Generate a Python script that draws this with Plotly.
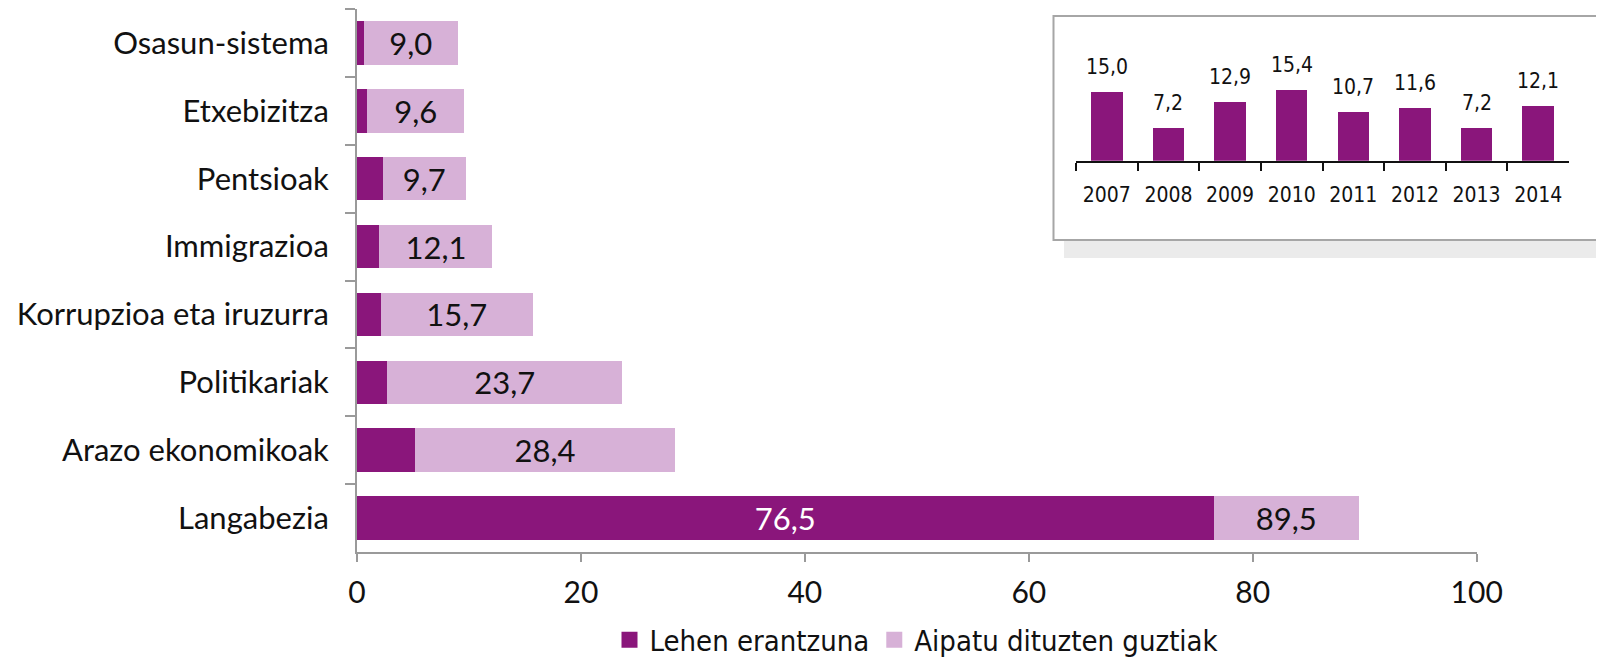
import plotly.graph_objects as go

categories = ["Osasun-sistema", "Etxebizitza", "Pentsioak", "Immigrazioa",
              "Korrupzioa eta iruzurra", "Politikariak", "Arazo ekonomikoak", "Langabezia"]
lehen = [0.6, 0.9, 2.3, 2.0, 2.1, 2.7, 5.2, 76.5]
guztiak = [9.0, 9.6, 9.7, 12.1, 15.7, 23.7, 28.4, 89.5]

years = ["2007", "2008", "2009", "2010", "2011", "2012", "2013", "2014"]
inset_values = [15.0, 7.2, 12.9, 15.4, 10.7, 11.6, 7.2, 12.1]

DARK = "#8a167b"
LIGHT = "#d7b1d7"
MAINFONT = "Lato, 'Noto Sans', sans-serif"
NARROW = ("'Liberation Sans Narrow', 'Arial Narrow', 'DejaVu Sans Condensed', "
          "'Noto Sans Condensed', 'Roboto Condensed', Roboto, sans-serif")

def fmt(v):
    return f"{v:.1f}".replace(".", ",")

fig = go.Figure()

# main chart: dark part + remaining light part (labelled with the total)
fig.add_trace(go.Bar(
    y=categories, x=lehen, orientation="h", marker=dict(color=DARK, line=dict(width=0)),
    text=[fmt(v) if v > 20 else "" for v in lehen], textposition="inside",
    insidetextanchor="middle", constraintext="none",
    textfont=dict(family=MAINFONT, size=31, color="white"),
    showlegend=False, hoverinfo="skip", name="Lehen erantzuna"))
fig.add_trace(go.Bar(
    y=categories, x=[g - l for g, l in zip(guztiak, lehen)], orientation="h",
    marker=dict(color=LIGHT, line=dict(width=0)),
    text=[fmt(v) for v in guztiak], textposition="inside",
    insidetextanchor="middle", constraintext="none",
    textfont=dict(family=MAINFONT, size=31, color="#111111"),
    showlegend=False, hoverinfo="skip", name="Aipatu dituzten guztiak"))

# legend entries
fig.add_trace(go.Scatter(x=[None], y=[None], mode="markers", name="Lehen erantzuna",
                         marker=dict(symbol="square", size=16, color=DARK)))
fig.add_trace(go.Scatter(x=[None], y=[None], mode="markers", name="Aipatu dituzten guztiak",
                         marker=dict(symbol="square", size=16, color=LIGHT)))

# inset
fig.add_trace(go.Bar(
    x=years, y=inset_values, xaxis="x2", yaxis="y2", width=0.51,
    marker=dict(color=DARK, line=dict(width=0)), showlegend=False, hoverinfo="skip"))

annotations = []
for i, v in enumerate(inset_values):
    annotations.append(dict(x=i, y=v, xref="x2", yref="y2", text=fmt(v), showarrow=False,
                            xanchor="center", yanchor="middle", yshift=25,
                            font=dict(family=NARROW, size=21, color="#111111")))

# the page body adds an 8px margin: work in screen pixels and compensate
OFF = 8
W, H = 1604 - OFF, 660 - OFF
L, R, T, B = 357 - OFF, 10, 9 - OFF, 108
pw, ph = W - L - R, H - T - B

def px2x(px):
    return (px - OFF - L) / pw

def px2y(py):
    return (H - B - (py - OFF)) / ph

shapes = [
    dict(type="rect", xref="paper", yref="paper", x0=px2x(1064), x1=px2x(1620),
         y0=px2y(258), y1=px2y(33), fillcolor="#ebebeb", line=dict(width=0), layer="below"),
    dict(type="rect", xref="paper", yref="paper", x0=px2x(1053.5), x1=px2x(1598),
         y0=px2y(240), y1=px2y(16), fillcolor="white", line=dict(color="#a6a6a6", width=2),
         layer="below"),
]

fig.update_layout(
    width=W, height=H, margin=dict(l=L, r=R, t=T, b=B, autoexpand=False),
    barmode="stack", bargap=0.36,
    paper_bgcolor="white", plot_bgcolor="rgba(0,0,0,0)",
    separators=",.",
    xaxis=dict(domain=[0, px2x(1476.7)], range=[0, 100], tickvals=[0, 20, 40, 60, 80, 100],
               showgrid=False, zeroline=False, showline=True, linecolor="#9a9a9a", linewidth=2,
               ticks="outside", ticklen=8, tickwidth=2, tickcolor="#9a9a9a",
               ticklabelstandoff=5, automargin=False,
               tickfont=dict(family=MAINFONT, size=30, color="#111111")),
    yaxis=dict(autorange="reversed", showgrid=False, zeroline=False, showline=True,
               linecolor="#9a9a9a", linewidth=2, ticks="outside", ticklen=10, tickwidth=2,
               tickcolor="#9a9a9a", tickson="boundaries", ticklabelstandoff=20,
               automargin=False,
               tickfont=dict(family=MAINFONT, size=31, color="#111111")),
    xaxis2=dict(domain=[px2x(1076), px2x(1569)], anchor="y2", range=[-0.5, 7.5],
                type="category", showgrid=False, zeroline=False, showline=True,
                linecolor="#111111", linewidth=2, ticks="outside", ticklen=8, tickwidth=2,
                tickcolor="#111111", tickson="boundaries", tickangle=0, ticklabelstandoff=14,
                automargin=False,
                tickfont=dict(family=NARROW, size=21, color="#111111")),
    yaxis2=dict(domain=[px2y(160.7), px2y(78.6)], anchor="x2", range=[0, 18],
                showgrid=False, zeroline=False, showline=False, showticklabels=False,
                ticks="", automargin=False),
    legend=dict(orientation="h", x=px2x(917), xanchor="center", y=px2y(640), yanchor="middle",
                traceorder="normal",
                font=dict(family=NARROW, size=29, color="#111111"), bgcolor="rgba(0,0,0,0)"),
    shapes=shapes, annotations=annotations,
)

fig.write_html("out.html")
